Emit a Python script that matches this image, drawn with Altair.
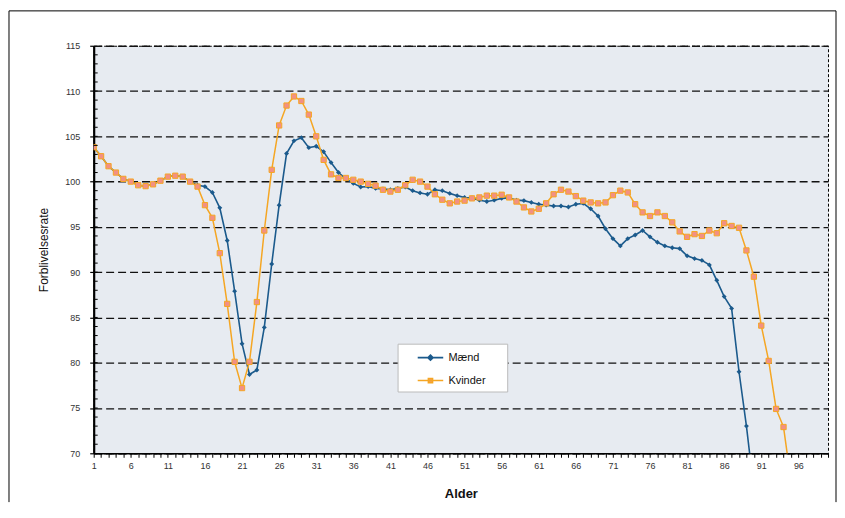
import altair as alt
import pandas as pd

# ---- data ----
ages_m = list(range(1, 91))
maend = [103.8, 102.8, 101.7, 101.0, 100.3, 100.0, 99.6, 99.5, 99.7, 100.1,
         100.55, 100.65, 100.55, 100.0, 99.6, 99.45, 98.8, 97.1, 93.5, 87.9,
         82.1, 78.7, 79.2, 83.9, 90.9, 97.4, 103.1, 104.5, 104.85, 103.75,
         103.9, 103.3, 102.1, 101.0, 100.3, 99.8, 99.4, 99.45, 99.25, 99.2,
         99.1, 99.25, 99.4, 99.0, 98.75, 98.6, 99.1, 99.0, 98.7, 98.45,
         98.25, 98.2, 97.95, 97.8, 97.95, 98.15, 98.2, 97.95, 97.9, 97.7,
         97.5, 97.4, 97.3, 97.3, 97.2, 97.5, 97.6, 97.0, 96.2, 94.8,
         93.7, 92.9, 93.7, 94.1, 94.6, 93.9, 93.3, 92.9, 92.7, 92.6,
         91.8, 91.5, 91.3, 90.8, 89.1, 87.3, 86.0, 79.0, 73.0, 66.0]
ages_k = list(range(1, 96))
kvinder = [103.8, 102.8, 101.7, 101.0, 100.3, 100.0, 99.6, 99.5, 99.7, 100.1,
           100.55, 100.65, 100.55, 100.0, 99.45, 97.4, 96.0, 92.1, 86.5, 80.1,
           77.2, 80.1, 86.7, 94.6, 101.3, 106.2, 108.4, 109.4, 108.9, 107.4,
           105.0, 102.4, 100.8, 100.4, 100.4, 100.2, 100.0, 99.75, 99.55, 99.1,
           98.9, 99.1, 99.6, 100.2, 100.0, 99.45, 98.6, 98.0, 97.6, 97.8,
           97.9, 98.15, 98.25, 98.45, 98.45, 98.55, 98.25, 97.8, 97.15, 96.7,
           97.0, 97.6, 98.6, 99.1, 98.9, 98.4, 97.9, 97.7, 97.6, 97.7,
           98.5, 99.0, 98.8, 97.5, 96.6, 96.2, 96.6, 96.2, 95.5, 94.5,
           93.9, 94.2, 94.0, 94.6, 94.3, 95.4, 95.1, 94.9, 92.4, 89.5,
           84.1, 80.2, 74.9, 72.9, 67.0]
series = ["Mænd", "Kvinder"]
line_colors = ["#1B5A8C", "#F5A623"]
marker_fill = ["#1B5A8C", "#F29084"]
legend_paths = ["M-1.6,0H1.6M0,-0.32L0.32,0L0,0.32L-0.32,0Z",
                "M-1.6,0H1.6M-0.26,-0.26H0.26V0.26H-0.26Z"]
x_ticks = list(range(1, 101))
y_major = list(range(70, 116, 5))
y_minor = list(range(71, 115))

df = pd.concat([
    pd.DataFrame({"Alder": ages_m, "Rate": maend, "Serie": series[0]}),
    pd.DataFrame({"Alder": ages_k, "Rate": kvinder, "Serie": series[1]}),
])
legend_df = pd.DataFrame({"Alder": [50, 50], "Rate": [0, 0], "Serie": series})
minor_df = pd.DataFrame({"Rate": y_minor})

FONT = "Liberation Sans"
PAD = "\u2800" * 2  # blank glyphs to widen the legend box

x_enc = alt.X("Alder:Q", scale=alt.Scale(domain=[1, 100], nice=False, zero=False),
              axis=alt.Axis(values=x_ticks, tickCount=1000, format="d",
                            labelExpr="(datum.value - 1) % 5 == 0 ? datum.label : ''",
                            labelOverlap=False, labelFlush=False, grid=False,
                            tickSize=4, tickColor="black", tickWidth=1,
                            domainColor="black", domainWidth=1.5,
                            labelFontSize=9, labelColor="#333333", labelPadding=4,
                            title="Alder", titleFontSize=13, titleFontWeight="bold",
                            titleColor="#111111", titlePadding=17))
y_enc = alt.Y("Rate:Q", scale=alt.Scale(domain=[70, 115], nice=False, zero=False),
              axis=alt.Axis(values=y_major, tickCount=1000, format="d",
                            labelOverlap=False, labelFlush=False,
                            grid=True, gridColor="#111111", gridDash=[8, 4], gridWidth=1.3,
                            tickSize=4, tickColor="black", tickWidth=1.2,
                            domainColor="black", domainWidth=2.2,
                            labelFontSize=9, labelColor="#333333", labelPadding=10,
                            title="Forblivelsesrate", titleFontSize=12, titleFontWeight="normal",
                            titleColor="#111111", titlePadding=14))

line_m = alt.Chart(df).transform_filter(alt.datum.Serie == series[0]).mark_line(
    strokeWidth=1.6, color=line_colors[0], clip=True
).encode(x=x_enc, y=y_enc, order="Alder:Q")

pts_m = alt.Chart(df).transform_filter(alt.datum.Serie == series[0]).mark_point(
    shape="diamond", filled=True, size=24, color=marker_fill[0], opacity=1, clip=True
).encode(x="Alder:Q", y="Rate:Q")

line_k = alt.Chart(df).transform_filter(alt.datum.Serie == series[1]).mark_line(
    strokeWidth=1.5, color=line_colors[1], clip=True
).encode(x="Alder:Q", y="Rate:Q", order="Alder:Q")

pts_k = alt.Chart(df).transform_filter(alt.datum.Serie == series[1]).mark_point(
    shape="square", filled=True, size=28, fill=marker_fill[1], stroke=line_colors[1],
    strokeWidth=1, opacity=1, clip=True
).encode(x="Alder:Q", y="Rate:Q")

# minor y ticks on the inner side of the axis
minor = alt.Chart(minor_df).mark_rule(color="black", strokeWidth=1).encode(
    y="Rate:Q", x=alt.value(0), x2=alt.value(4))

leg = alt.Legend(title=None, orient="none", legendX=305, legendY=299,
                 fillColor="white", strokeColor="#BBBBBB",
                 padding=5, symbolOffset=19, symbolSize=256,
                 labelFontSize=11, labelFont=FONT, labelColor="#111111",
                 labelExpr="datum.label + '" + PAD + "'",
                 labelOffset=9, rowPadding=8, symbolStrokeWidth=1.6)

legend_layer = alt.Chart(legend_df).mark_point(
    filled=True, size=256, strokeWidth=1.6, opacity=1, clip=True
).encode(
    x="Alder:Q", y="Rate:Q",
    fill=alt.Fill("Serie:N", scale=alt.Scale(domain=series, range=marker_fill), sort=series, legend=leg),
    stroke=alt.Stroke("Serie:N", scale=alt.Scale(domain=series, range=line_colors), sort=series, legend=leg),
    shape=alt.Shape("Serie:N", scale=alt.Scale(domain=series, range=legend_paths), sort=series, legend=leg),
)

frame_df = pd.DataFrame({"k": [0]})
frame_left = alt.Chart(frame_df).mark_rule(color="black", strokeWidth=1).encode(
    x=alt.value(-85), y=alt.value(-35), y2=alt.value(458))
frame_top = alt.Chart(frame_df).mark_rule(color="black", strokeWidth=1).encode(
    x=alt.value(-85), x2=alt.value(745), y=alt.value(-35))
frame_right = alt.Chart(frame_df).mark_rule(color="black", strokeWidth=1).encode(
    x=alt.value(745), y=alt.value(-35), y2=alt.value(458))

chart = alt.layer(line_m, pts_m, line_k, pts_k, minor, legend_layer,
                  frame_left, frame_top, frame_right).properties(
    width=737, height=409, padding={"left": 0, "top": 1, "right": 0, "bottom": 0},
    background="white",
).configure(font=FONT).configure_view(
    fill="#E7EBF1", stroke="black", strokeDash=[3, 2], strokeWidth=1
)

chart.save("out.html", embed_options={"renderer": "svg", "actions": False})
